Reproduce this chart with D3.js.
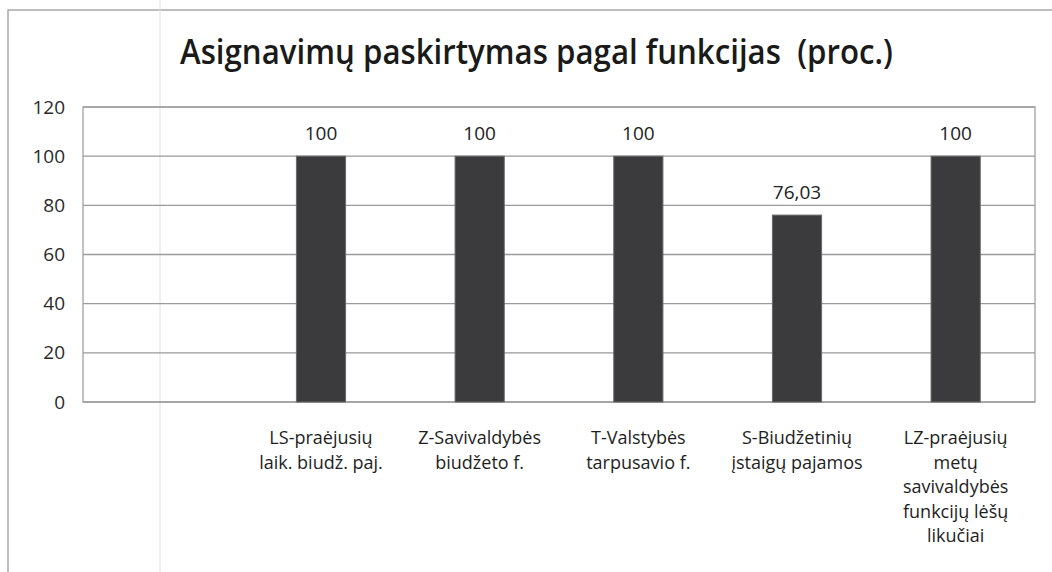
<!DOCTYPE html>
<html>
<head>
<meta charset="utf-8">
<script src="https://cdn.jsdelivr.net/npm/d3@7"></script>
<style>
  body { margin: 0; background: #fff; }
  svg { display: block; }
</style>
</head>
<body>
<svg id="chart" width="1052" height="572"></svg>
<script>
// chart data
const categories = [
  "",
  "LS-praėjusių\nlaik. biudž. paj.",
  "Z-Savivaldybės\nbiudžeto f.",
  "T-Valstybės\ntarpusavio f.",
  "S-Biudžetinių\nįstaigų pajamos",
  "LZ-praėjusių\nmetų\nsavivaldybės\nfunkcijų lėšų\nlikučiai"
];
const values = [null, 100, 100, 100, 76.03, 100];
const valueLabels = ["", "100", "100", "100", "76,03", "100"];
const yTicks = [0, 20, 40, 60, 80, 100, 120];
const title = "Asignavimų paskirtymas pagal funkcijas  (proc.)";

const svg = d3.select("#chart");
const W = 1052, H = 572;
const plot = {left: 83, right: 1035, top: 107, bottom: 402};
const font = "'Open Sans', 'DejaVu Sans', sans-serif";

// outer frame of the chart object (scan edge)
svg.append("path")
  .attr("d", `M8,${H} L8,10 L${W},10`)
  .attr("fill", "none")
  .attr("stroke", "#a8a8a8")
  .attr("stroke-width", 1.5);
svg.append("line")
  .attr("x1", 160).attr("x2", 160).attr("y1", 0).attr("y2", H)
  .attr("stroke", "#dde0e8").attr("stroke-width", 1);

// title
svg.append("text")
  .attr("x", 180).attr("y", 64)
  .attr("font-family", font)
  .attr("font-size", 34)
  .attr("font-weight", 600)
  .attr("fill", "#1a1a1a")
  .attr("textLength", 713)
  .attr("lengthAdjust", "spacingAndGlyphs")
  .style("white-space", "pre")
  .text(title);

const x = d3.scaleBand()
  .domain(d3.range(categories.length))
  .range([plot.left, plot.right])
  .paddingInner(0.69)
  .paddingOuter(0.345);

const y = d3.scaleLinear()
  .domain([0, 120])
  .range([plot.bottom, plot.top]);

// gridlines
svg.append("g")
  .selectAll("line")
  .data(yTicks)
  .join("line")
    .attr("x1", plot.left).attr("x2", plot.right)
    .attr("y1", d => y(d)).attr("y2", d => y(d))
    .attr("stroke", "#9a9a9a")
    .attr("stroke-width", 1.3);

// plot border
svg.append("rect")
  .attr("x", plot.left).attr("y", plot.top)
  .attr("width", plot.right - plot.left)
  .attr("height", plot.bottom - plot.top)
  .attr("fill", "none")
  .attr("stroke", "#a0a0a0")
  .attr("stroke-width", 1.3);

// y axis labels
const yAxis = svg.append("g")
  .attr("transform", `translate(${plot.left},0)`)
  .call(d3.axisLeft(y).tickValues(yTicks).tickSize(0).tickPadding(18));
yAxis.select(".domain").remove();
yAxis.selectAll("text")
  .attr("font-family", font)
  .attr("font-size", 19)
  .attr("font-weight", 500)
  .attr("fill", "#2a2a2a");

// bars
const bars = values.map((v, i) => ({i, v, label: valueLabels[i]})).filter(d => d.v != null);
svg.append("g")
  .selectAll("rect")
  .data(bars)
  .join("rect")
    .attr("x", d => x(d.i))
    .attr("width", x.bandwidth())
    .attr("y", d => y(d.v))
    .attr("height", d => y(0) - y(d.v))
    .attr("fill", "#3b3b3d")
    .attr("stroke", "#6a6a6a")
    .attr("stroke-width", 1);

// value labels
svg.append("g")
  .selectAll("text")
  .data(bars)
  .join("text")
    .attr("x", d => x(d.i) + x.bandwidth() / 2)
    .attr("y", d => y(d.v) - 16)
    .attr("text-anchor", "middle")
    .attr("font-family", font)
    .attr("font-size", 19)
    .attr("font-weight", 500)
    .attr("fill", "#222")
    .text(d => d.label);

// category labels
const xl = svg.append("g")
  .selectAll("text")
  .data(categories.map((c, i) => ({i, lines: c ? c.split("\n") : []})))
  .join("text")
    .attr("x", d => x(d.i) + x.bandwidth() / 2)
    .attr("y", 444)
    .attr("text-anchor", "middle")
    .attr("font-family", font)
    .attr("font-size", 18)
    .attr("font-weight", 500)
    .attr("fill", "#1e1e1e");
xl.selectAll("tspan")
  .data(d => d.lines.map(l => ({l, cx: x(d.i) + x.bandwidth() / 2})))
  .join("tspan")
    .attr("x", d => d.cx)
    .attr("dy", (d, j) => j === 0 ? 0 : 24.5)
    .text(d => d.l);
</script>
</body>
</html>
